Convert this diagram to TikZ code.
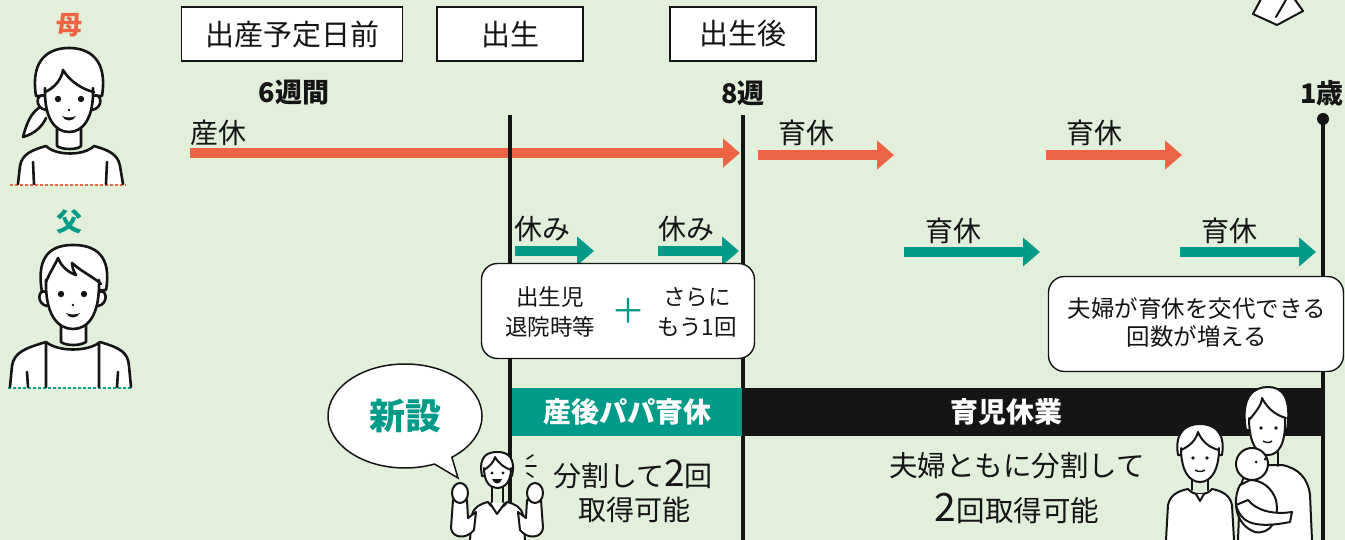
\documentclass[tikz,border=0pt]{standalone}
\usepackage{fontspec}
\setmainfont{Noto Sans CJK JP}
\usetikzlibrary{arrows.meta,shapes.callouts}
\definecolor{bgcol}{HTML}{E2EFDA}
\definecolor{mama}{HTML}{EC6443}
\definecolor{papa}{HTML}{009B88}
\definecolor{ink}{HTML}{151515}
\newcommand{\fs}[1]{\fontsize{#1}{#1}\selectfont}
\tikzset{
  every node/.style={inner sep=0pt, text=ink},
  datebox/.style={draw=ink, fill=white, line width=1.4pt, minimum width=#1, minimum height=54, font=\fs{29}},
  week/.style={font=\fs{27}\bfseries},
  lab/.style={font=\fs{28}},
  note/.style={draw=ink, fill=white, line width=1.4pt, rounded corners=16pt},
  notetext/.style={align=center, font=\fontsize{22.5}{30}\selectfont},
  stage/.style={ink, line width=3.5pt},
  mamarrow/.style={mama, line width=10pt, -{Triangle[length=17pt,width=28pt]}},
  paparrow/.style={papa, line width=10pt, -{Triangle[length=17pt,width=28pt]}},
  face/.style={draw=ink, fill=white, line width=2.6pt, line join=round, line cap=round},
  bartext/.style={text=white, font=\fs{28}\bfseries},
  dots/.style={line width=2.5pt, dash pattern=on 2.5pt off 2.5pt},
}

\begin{document}
\begin{tikzpicture}[x=1pt,y=-1pt]
  \useasboundingbox (0,0) rectangle (1345,540);
  \fill[bgcol] (0,0) rectangle (1345,540);

  \node[datebox=221] (pre)   at (292,34) {出産予定日前};
  \node[datebox=146] (born)  at (510,34) {出生};
  \node[datebox=146] (after) at (743,34) {出生後};
  \node[week] (w6) at (294,93)  {6週間};
  \node[week] (w8) at (743,93)  {8週};
  \node[week] (y1) at (1322,93) {1歳};

  \coordinate (m0) at (190,153);  \coordinate (m1) at (740,153);
  \coordinate (m2) at (758,155);  \coordinate (m3) at (894,155);
  \coordinate (m4) at (1046,155); \coordinate (m5) at (1182,155);
  \draw[mamarrow] (m0) -- (m1);
  \draw[mamarrow] (m2) -- (m3);
  \draw[mamarrow] (m4) -- (m5);
  \node[lab, anchor=west] (sankyu) at (190,133) {産休};
  \node[lab] (ikukyu1) at (806,133)  {育休};
  \node[lab] (ikukyu2) at (1094,133) {育休};

  \coordinate (p0) at (515,251);  \coordinate (p1) at (594,251);
  \coordinate (p2) at (658,251);  \coordinate (p3) at (739,251);
  \coordinate (p4) at (904,252);  \coordinate (p5) at (1040,252);
  \coordinate (p6) at (1180,252); \coordinate (p7) at (1316,252);
  \draw[paparrow] (p0) -- (p1);
  \draw[paparrow] (p2) -- (p3);
  \draw[paparrow] (p4) -- (p5);
  \draw[paparrow] (p6) -- (p7);
  \node[lab, anchor=west] (yasumi1) at (514,229) {休み};
  \node[lab, anchor=west] (yasumi2) at (658,229) {休み};
  \node[lab] (ikukyu3) at (953,231)  {育休};
  \node[lab] (ikukyu4) at (1229,231) {育休};

  \coordinate (birth) at (510,115);
  \coordinate (week8) at (743,115);
  \coordinate (age1)  at (1323,119);
  \draw[stage] (birth) -- ++(0,425);
  \draw[stage] (week8) -- ++(0,425);
  \draw[stage] (age1) -- ++(0,421);
  \fill[ink] (age1) circle (6);

  \node[note, minimum width=273, minimum height=95] (n1) at (618,311) {};
  \node[notetext] (n1a) at (550,312) {出生児\\退院時等};
  \node[font=\fs{34}, text=papa] (plus) at (628,311) {＋};
  \node[notetext] (n1b) at (697,312) {さらに\\もう1回};
  \node[note, minimum width=295, minimum height=95] (n2) at (1196,324) {};
  \node[notetext, font=\fontsize{23.5}{28}\selectfont] (n2a) at (1197,323) {夫婦が育休を交代できる\\回数が増える};

  \fill[papa] (512,388) rectangle (742,436);
  \fill[ink] (742,388) rectangle (1323,436);
  \node[bartext] (papabar) at (627,412)  {産後パパ育休};
  \node[bartext] (kyugyo)  at (1006,412) {育児休業};

  \node[lab] (split1) at (633,474)  {分割して{\fs{37}2}回};
  \node[lab] (split2) at (634,510)  {取得可能};
  \node[lab, font=\fs{28.5}] (both1)  at (1017,466) {夫婦ともに分割して};
  \node[lab, font=\fs{28.5}] (both2)  at (1017,508) {{\fs{39}2}回取得可能};

  \coordinate (tail) at (458,478);
  \node[ellipse callout, draw=ink, fill=white, line width=1.5pt, minimum width=154, minimum height=104,
        callout absolute pointer=(tail), font=\fs{36}\bfseries, text=papa] (new) at (405,416) {新設};

  \node[font=\fs{26}\bfseries, text=mama] (mom) at (69,25)  {母};
  \node[font=\fs{26}\bfseries, text=papa] (dad) at (69,222) {父};
  \draw[mama, dots] (10,185) -- (126,185);
  \draw[papa, dots] (8,388) -- (131,388);

  \draw[face] (18,184) -- (20,166) .. controls (22,154) and (32,150) .. (46,146)
    .. controls (56,156) and (84,156) .. (94,146) .. controls (108,150) and (118,154) .. (120,166) -- (123,184);
  \draw[face] (33,162) -- (34,184) (107,162) -- (106,184);
  \draw[face] (57,125) -- (57,146) .. controls (62,150) and (78,150) .. (81,146) -- (81,125);
  \draw[face] (42,106) .. controls (30,112) and (26,126) .. (23,137) .. controls (34,134) and (42,127) .. (46,118);
  \draw[face] (36,96) .. controls (30,58) and (50,48) .. (69,48) .. controls (88,48) and (108,58) .. (102,96) -- cycle;
  \draw[face] (45,96) .. controls (36,92) and (34,108) .. (46,110);
  \draw[face] (93,96) .. controls (102,92) and (104,108) .. (92,110);
  \draw[face] (45,88) .. controls (44,118) and (55,132) .. (69,132) .. controls (83,132) and (94,118) .. (93,88);
  \draw[face, fill=none] (45,92) .. controls (55,88) and (62,78) .. (63,70) .. controls (70,82) and (84,90) .. (94,92);
  \fill[ink] (58,99) circle (3.2) (81,99) circle (3.2) (69,110) circle (1.4);
  \fill[ink] (62,116) .. controls (65,122) and (73,122) .. (76,116) .. controls (72,118) and (66,118) .. (62,116);

  \draw[face] (10,387) -- (12,366) .. controls (14,352) and (26,348) .. (46,342)
    .. controls (58,352) and (88,352) .. (100,342) .. controls (120,348) and (128,352) .. (129,366) -- (131,387);
  \draw[face] (46,344) -- (46,387) (99,344) -- (99,387) (27,372) -- (28,387) (118,372) -- (117,387);
  \draw[face] (61,322) -- (61,342) .. controls (66,346) and (80,346) .. (86,342) -- (86,322);
  \draw[face] (42,292) .. controls (35,252) and (55,245) .. (73,245) .. controls (95,245) and (112,255) .. (106,290) -- cycle;
  \draw[face] (46,292) .. controls (38,288) and (36,304) .. (47,306);
  \draw[face] (99,292) .. controls (107,288) and (109,304) .. (98,306);
  \draw[face] (46,280) .. controls (45,315) and (58,329) .. (73,329) .. controls (88,329) and (100,315) .. (99,280);
  \draw[face, fill=none] (46,282) .. controls (50,272) and (55,265) .. (58,258) .. controls (62,268) and (70,273) .. (76,275)
    .. controls (73,270) and (72,267) .. (72,263) .. controls (82,272) and (95,278) .. (101,284);
  \fill[ink] (61,294) circle (3.2) (84,294) circle (3.2) (73,305) circle (1.4);
  \fill[ink] (66,313) .. controls (69,319) and (77,319) .. (80,313) .. controls (76,315) and (70,315) .. (66,313);

  \begin{scope}[face/.append style={line width=2pt}]
    \draw[face] (470,540) -- (472,515) .. controls (474,507) and (480,504) .. (488,502)
      .. controls (492,510) and (503,510) .. (507,502) .. controls (515,504) and (521,507) .. (523,515) -- (525,540);
    \draw[face] (490,503) -- (497,514) -- (505,503);
    \draw[face] (453,500) -- (451,528) .. controls (452,538) and (466,540) .. (474,530) -- (476,512) -- (468,518) -- (467,500) -- cycle;
    \draw[face] (541,500) -- (543,528) .. controls (542,538) and (528,540) .. (520,530) -- (518,512) -- (526,518) -- (527,500) -- cycle;
    \draw[face] (460,493) ellipse (8 and 10);
    \draw[face] (535,493) ellipse (8 and 10);
    \draw[face] (492,484) -- (492,502) (503,484) -- (503,502);
    \draw[face] (482,476) .. controls (478,455) and (488,452) .. (498,452) .. controls (508,452) and (516,458) .. (512,476) -- cycle;
    \draw[face] (484,468) .. controls (484,482) and (490,488) .. (497,488) .. controls (505,488) and (511,482) .. (511,468);
    \draw[face, fill=none] (484,470) .. controls (490,466) and (494,462) .. (495,457) .. controls (499,464) and (505,468) .. (511,470);
    \fill[ink] (492,473) circle (1.6) (503,473) circle (1.6);
    \fill[ink] (492,479) .. controls (494,485) and (500,485) .. (502,479) -- cycle;
    \draw[ink, line width=1.6pt, line cap=round] (527,459) -- (533,455) (526,466) -- (536,466) (527,473) -- (533,477);

    \draw[face] (1238,540) -- (1240,490) .. controls (1242,475) and (1250,468) .. (1262,465) -- (1282,465)
      .. controls (1298,468) and (1308,478) .. (1310,495) -- (1312,540);
    \draw[face] (1262,445) -- (1262,466) (1278,445) -- (1278,466);
    \draw[face] (1246,430) .. controls (1240,395) and (1255,387) .. (1268,387) .. controls (1282,387) and (1292,397) .. (1287,430) -- cycle;
    \draw[face] (1249,418) .. controls (1249,445) and (1258,455) .. (1268,455) .. controls (1278,455) and (1286,445) .. (1285,418);
    \draw[face, fill=none] (1249,420) .. controls (1256,412) and (1262,404) .. (1262,398) .. controls (1268,410) and (1278,416) .. (1286,418);
    \fill[ink] (1261,428) circle (1.8) (1276,428) circle (1.8);
    \draw[ink, line width=1.4pt] (1263,441) .. controls (1266,443) and (1270,443) .. (1272,441);

    \draw[face] (1166,540) -- (1168,505) .. controls (1170,495) and (1178,491) .. (1188,489)
      .. controls (1193,496) and (1207,496) .. (1212,489) .. controls (1222,491) and (1230,495) .. (1232,505) -- (1234,540);
    \draw[face] (1196,494) -- (1200,501) -- (1204,494);
    \draw[face] (1192,476) -- (1192,490) (1208,476) -- (1208,490);
    \draw[face] (1178,455) .. controls (1174,430) and (1188,424) .. (1200,424) .. controls (1212,424) and (1226,430) .. (1222,455) -- cycle;
    \draw[face] (1181,448) .. controls (1181,472) and (1190,482) .. (1200,482) .. controls (1210,482) and (1219,472) .. (1219,448);
    \draw[face, fill=none] (1181,450) .. controls (1190,446) and (1196,440) .. (1198,432) .. controls (1202,442) and (1210,448) .. (1219,450);
    \fill[ink] (1193,458) circle (1.8) (1207,458) circle (1.8);
    \draw[ink, line width=1.4pt] (1195,470) .. controls (1198,472) and (1202,472) .. (1205,470);

    \draw[face] (1240,485) .. controls (1232,500) and (1235,525) .. (1255,532) .. controls (1270,535) and (1280,520) .. (1276,500)
      .. controls (1272,488) and (1262,480) .. (1250,480) -- cycle;
    \draw[face] (1252,464) circle (16);
    \fill[ink] (1256,462) circle (1.5) (1265,459) circle (1.5);
    \draw[face] (1236,505) .. controls (1240,520) and (1250,530) .. (1290,522) -- (1292,512)
      .. controls (1272,515) and (1256,510) .. (1248,500) -- cycle;

    \draw[face] (1253,14) -- (1277,25) -- (1303,11) -- (1293,-3) -- (1262,-3) -- cycle;
    \draw[face] (1276,17) -- (1287,-2);
  \end{scope}
\end{tikzpicture}
\end{document}
